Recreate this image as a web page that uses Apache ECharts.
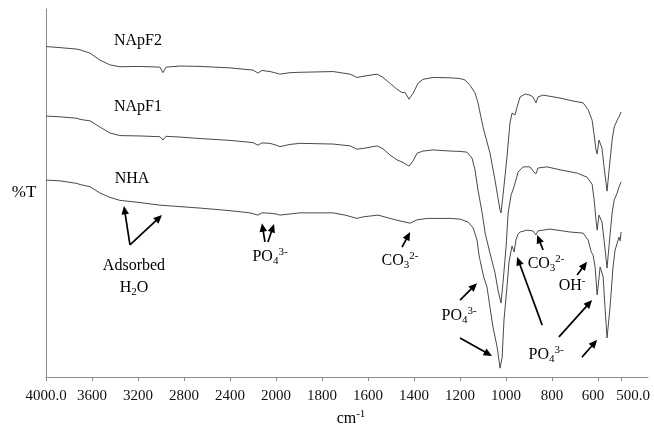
<!DOCTYPE html>
<html>
<head>
<meta charset="utf-8">
<script src="https://cdn.jsdelivr.net/npm/echarts@6/dist/echarts.min.js"></script>
<style>
  html, body { margin: 0; padding: 0; background: #fff; }
  #chart { width: 654px; height: 436px; }
</style>
</head>
<body>
<div id="chart"></div>
<script>
// FTIR spectra: [wavenumber (cm-1), transmittance (arb. %T)]
const napf2 = [
  [4000,89.8],[3878,89.5],[3730,89.1],[3704,88.9],[3617,88.0],[3530,86.1],[3443,84.8],[3357,84.3],
  [3183,84.4],[3009,84.2],[2983,82.7],[2957,84.2],[2835,84.5],[2661,84.4],[2400,84.0],[2200,83.4],
  [2157,82.6],[2122,83.3],[2052,83.0],[2000,82.6],[1983,82.3],[1939,82.7],[1896,82.8],[1752,83.0],
  [1678,82.3],[1648,81.4],[1613,81.8],[1561,82.3],[1535,81.4],[1504,79.8],[1474,78.2],[1452,77.3],
  [1439,77.3],[1422,75.5],[1404,77.1],[1383,79.8],[1361,80.9],[1317,81.4],[1243,81.3],[1200,81.1],
  [1178,80.7],[1157,79.3],[1135,77.2],[1122,74.5],[1100,67.9],[1070,60.9],[1048,53.5],[1035,48.6],
  [1026,45.4],[1022,44.6],[1013,49.5],[1004,54.9],[996,59.8],[983,69.0],[974,71.7],[970,72.0],
  [961,71.2],[952,73.4],[939,76.1],[917,76.9],[896,76.6],[883,76.1],[870,74.5],[861,76.1],
  [839,76.6],[765,75.8],[709,75.0],[665,74.5],[643,72.6],[626,69.8],[617,65.8],[609,61.7],
  [604,60.6],[596,64.4],[591,64.1],[583,62.2],[574,57.1],[561,50.5],[552,56.3],[539,64.4],
  [530,67.9],[517,69.8],[509,70.7],[500,72.0]
];
const napf1 = [
  [4000,70.9],[3878,70.7],[3730,70.3],[3704,70.0],[3617,69.6],[3530,67.9],[3443,66.3],[3357,65.6],
  [3183,65.5],[3009,65.3],[2983,64.4],[2957,65.4],[2835,65.2],[2661,64.8],[2400,64.3],[2200,63.7],
  [2157,63.0],[2122,63.6],[2052,63.5],[2000,63.0],[1983,62.6],[1939,63.2],[1896,63.5],[1752,63.3],
  [1678,62.8],[1648,61.9],[1613,62.2],[1561,62.8],[1535,62.0],[1504,60.3],[1474,59.0],[1448,58.3],
  [1422,57.3],[1404,58.7],[1387,60.8],[1361,61.4],[1317,61.7],[1243,61.4],[1200,61.3],[1170,61.1],
  [1148,59.5],[1135,56.3],[1122,50.8],[1104,44.6],[1091,39.1],[1070,33.7],[1048,28.3],[1035,23.6],
  [1022,20.1],[1013,25.8],[1000,35.3],[991,44.6],[978,49.5],[970,50.8],[965,50.3],[957,53.5],
  [948,55.7],[926,57.1],[896,57.1],[883,56.0],[870,55.2],[861,56.8],[822,57.1],[765,56.3],
  [691,55.4],[648,54.3],[626,52.4],[617,48.1],[609,42.7],[604,39.9],[596,44.0],[591,43.8],
  [583,42.1],[574,37.2],[561,29.6],[552,35.9],[539,44.6],[530,48.1],[517,50.0],[509,51.6],[500,53.0]
];
const nha = [
  [4000,53.5],[3878,53.3],[3730,52.6],[3704,52.3],[3617,51.7],[3530,50.0],[3443,48.8],[3357,48.0],
  [3183,47.4],[3009,46.7],[2661,45.9],[2400,45.2],[2226,44.6],[2157,44.0],[2122,44.6],[2052,44.5],
  [2000,44.3],[1983,44.0],[1896,44.6],[1752,44.6],[1700,44.0],[1648,43.1],[1622,43.5],[1557,44.0],
  [1504,43.1],[1461,42.4],[1439,42.1],[1417,41.8],[1387,42.7],[1343,43.1],[1243,43.1],[1200,42.9],
  [1165,42.1],[1143,40.5],[1126,37.2],[1117,32.9],[1104,29.1],[1096,26.9],[1083,24.5],[1070,19.0],
  [1057,13.6],[1039,8.2],[1026,2.4],[1017,5.4],[1009,15.5],[996,24.5],[987,31.3],[974,35.6],
  [965,34.0],[957,37.2],[948,38.9],[939,39.4],[909,39.9],[883,39.7],[870,38.6],[861,39.7],
  [809,40.2],[722,39.4],[665,39.1],[643,37.2],[630,34.0],[622,33.2],[613,29.9],[604,22.3],
  [591,29.9],[578,27.2],[570,19.0],[561,10.6],[548,19.0],[535,29.9],[526,34.5],[517,36.4],
  [509,38.0],[504,37.0],[500,39.4]
];

const seriesNames = ['NApF2', 'NApF1', 'NHA'];
const seriesData = [napf2, napf1, nha];

// The wavenumber axis changes scale at 2000 cm-1
const scaleBreak = 2000;
const highRangeInterval = 400;
const lowRangeTicks = [1800, 1600, 1400, 1200, 1000, 800, 600, 500];

// Peak assignments: arrows [from wn, from %T, to wn, to %T] and labels
const noteArrows = [
  [3270, 35.9, 3322, 46.5],
  [3270, 35.9, 2991, 44.0],
  [2096, 36.7, 2122, 41.8],
  [2070, 36.7, 2017, 41.6],
  [1452, 35.3, 1417, 39.4],
  [1200, 20.9, 1126, 25.5],
  [1200, 10.6, 1061, 5.7],
  [839, 34.5, 865, 38.6],
  [843, 14.1, 952, 32.6],
  [691, 27.7, 648, 31.3],
  [770, 10.9, 626, 20.9],
  [670, 5.4, 604, 10.1]
];
const noteLabels = [
  ['{m|Adsorbed}', 3235, 30.2],
  ['{m|H}{sb|2}{m|O}', 3235, 24.2],
  ['{m|PO}{sb|4}{sp|3-}', 2052, 32.6],
  ['{m|CO}{sb|3}{sp|2-}', 1461, 31.5],
  ['{m|PO}{sb|4}{sp|3-}', 1204, 16.6],
  ['{m|CO}{sb|3}{sp|2-}', 826, 30.7],
  ['{m|OH}{sp|-}', 713, 24.7],
  ['{m|PO}{sb|4}{sp|3-}', 826, 6.0]
];
const nameLabels = [
  ['NApF2', 3200, 91.3],
  ['NApF1', 3200, 73.4],
  ['NHA', 3252, 53.8]
];

const FONT = '"Liberation Serif", "Times New Roman", serif';
const AXIS_COLOR = '#8a8a8a';
const LINE_COLOR = '#4a4a4a';

const chart = echarts.init(document.getElementById('chart'), null, { renderer: 'canvas' });

const gridTop = 9, gridHeight = 368;

function labelText(v) {
  if (v === 4000 || v === 500) return v.toFixed(1);
  return String(v);
}

const xAxisCommon = {
  type: 'value',
  inverse: true,
  axisLine: { show: true, lineStyle: { color: AXIS_COLOR, width: 1 } },
  axisTick: { show: true, inside: false, length: 4, lineStyle: { color: AXIS_COLOR } },
  splitLine: { show: false },
  axisLabel: {
    fontFamily: FONT, fontSize: 15, color: '#111', margin: 12,
    showMinLabel: true, showMaxLabel: true
  }
};

const series = [];
seriesData.forEach((d, i) => {
  const hi = d.filter(p => p[0] >= scaleBreak);
  const lo = d.filter(p => p[0] <= scaleBreak);
  [hi, lo].forEach((part, g) => {
    series.push({
      name: seriesNames[i],
      type: 'line',
      xAxisIndex: g,
      yAxisIndex: g,
      data: part,
      symbol: 'none',
      silent: true,
      lineStyle: { color: LINE_COLOR, width: 1 }
    });
  });
});

const option = {
  animation: false,
  backgroundColor: '#fff',
  grid: [
    { left: 46, top: gridTop, width: 230, height: gridHeight },
    { left: 276, top: gridTop, width: 372, height: gridHeight }
  ],
  xAxis: [
    Object.assign({}, xAxisCommon, {
      gridIndex: 0, min: scaleBreak, max: 4000, interval: highRangeInterval,
      axisLabel: Object.assign({}, xAxisCommon.axisLabel, { formatter: labelText })
    }),
    Object.assign({}, xAxisCommon, {
      gridIndex: 1, min: 383, max: scaleBreak,
      axisTick: Object.assign({}, xAxisCommon.axisTick, { customValues: lowRangeTicks }),
      axisLabel: Object.assign({}, xAxisCommon.axisLabel, {
        customValues: lowRangeTicks,
        formatter: v => {
          if (v === 600) return '{l|600}';
          if (v === 500) return '{r|500.0}';
          return labelText(v);
        },
        rich: {
          l: { fontFamily: FONT, fontSize: 15, color: '#111', padding: [0, 10, 0, 0] },
          r: { fontFamily: FONT, fontSize: 15, color: '#111', padding: [0, 0, 0, 24] }
        }
      })
    })
  ],
  yAxis: [
    {
      gridIndex: 0, type: 'value', min: 0, max: 100,
      axisLine: { show: true, lineStyle: { color: AXIS_COLOR, width: 1 } },
      axisTick: { show: false }, axisLabel: { show: false }, splitLine: { show: false }
    },
    {
      gridIndex: 1, type: 'value', min: 0, max: 100, show: false,
      splitLine: { show: false }
    }
  ],
  series: series
};

chart.setOption(option);

// Annotations placed in data coordinates through the axes
function toPx(wn, t) {
  const g = wn >= scaleBreak ? 0 : 1;
  return chart.convertToPixel({ xAxisIndex: g, yAxisIndex: g }, [wn, t]);
}

const richStyles = {
  m: { fontSize: 16, lineHeight: 20, fontFamily: FONT },
  sb: { fontSize: 11, lineHeight: 11, verticalAlign: 'bottom', fontFamily: FONT },
  sp: { fontSize: 11, lineHeight: 11, verticalAlign: 'top', fontFamily: FONT }
};

const graphics = [];

function addArrow(x1, y1, x2, y2) {
  const dx = x2 - x1, dy = y2 - y1;
  const len = Math.hypot(dx, dy);
  const ux = dx / len, uy = dy / len;
  const hl = 8.5, hw = 3.8;
  const bx = x2 - ux * hl, by = y2 - uy * hl;
  graphics.push({
    type: 'line', silent: true,
    shape: { x1: x1, y1: y1, x2: bx + ux * 1, y2: by + uy * 1 },
    style: { stroke: '#000', lineWidth: 1.7 }
  });
  graphics.push({
    type: 'polygon', silent: true,
    shape: { points: [[x2, y2], [bx - uy * hw, by + ux * hw], [bx + uy * hw, by - ux * hw]] },
    style: { fill: '#000' }
  });
}

noteArrows.forEach(a => {
  const p1 = toPx(a[0], a[1]);
  const p2 = toPx(a[2], a[3]);
  addArrow(p1[0], p1[1], p2[0], p2[1]);
});

function addText(text, x, y, size) {
  graphics.push({
    type: 'text', silent: true, x: x, y: y,
    style: {
      text: text, rich: richStyles, fill: '#000',
      fontFamily: FONT, fontSize: size || 16,
      align: 'center', verticalAlign: 'middle'
    }
  });
}

noteLabels.forEach(n => {
  const p = toPx(n[1], n[2]);
  addText(n[0], p[0], p[1]);
});
nameLabels.forEach(n => {
  const p = toPx(n[1], n[2]);
  addText('{m|' + n[0] + '}', p[0], p[1]);
});

// Axis titles
const midY = toPx(4000, 50)[1];
graphics.push({
  type: 'text', silent: true, x: 24, y: midY,
  style: { text: '%T', fill: '#000', fontFamily: FONT, fontSize: 17, align: 'center', verticalAlign: 'middle' }
});
graphics.push({
  type: 'text', silent: true, x: 351, y: 419,
  style: {
    text: '{m|cm}{sp|-1}', rich: richStyles, fill: '#000',
    fontFamily: FONT, fontSize: 16, align: 'center', verticalAlign: 'middle'
  }
});

chart.setOption({ graphic: graphics });
</script>
</body>
</html>
